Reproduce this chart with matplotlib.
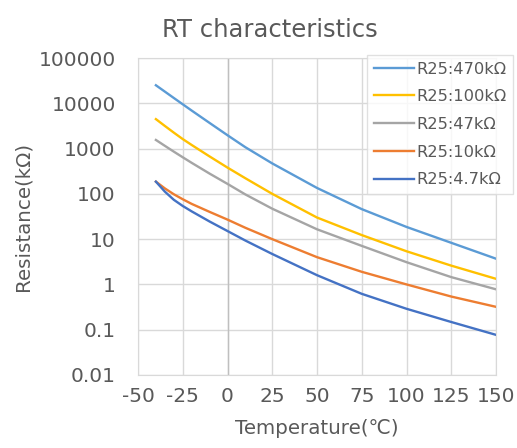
import matplotlib
matplotlib.use("Agg")
import matplotlib.pyplot as plt

plt.rcParams['font.family'] = ['DejaVu Sans', 'Noto Sans CJK JP']

temps = [-40, -35, -30, -25, -20, -10, 0, 10, 25, 50, 75, 100, 125, 150]
r470k = [25000, 18100, 13100, 9500, 6900, 3680, 1970, 1070, 470, 135, 46, 18.6, 8.3, 3.7]
r100k = [4470, 3160, 2250, 1620, 1200, 670, 380, 221, 100, 30, 12.3, 5.4, 2.6, 1.33]
r47k = [1550, 1150, 856, 642, 484, 280, 166, 97, 47, 16.5, 7.1, 3.1, 1.45, 0.78]
r10k = [186, 132, 98, 76, 60, 40, 27, 17.8, 10, 4.0, 1.9, 1.0, 0.54, 0.32]
r4k7 = [186, 112, 74, 54, 41, 24.5, 15.1, 9.3, 4.7, 1.6, 0.62, 0.29, 0.148, 0.077]

labels = ['R25:470kΩ', 'R25:100kΩ', 'R25:47kΩ', 'R25:10kΩ', 'R25:4.7kΩ']
colors = ['#5B9BD5', '#FFC000', '#A5A5A5', '#ED7D31', '#4472C4']
series = [r470k, r100k, r47k, r10k, r4k7]

xticks = [-50, -25, 0, 25, 50, 75, 100, 125, 150]
yticks = [0.01, 0.1, 1, 10, 100, 1000, 10000, 100000]
ytick_labels = ['0.01', '0.1', '1', '10', '100', '1000', '10000', '100000']

txt = '#595959'
W, H = 517, 448
fig = plt.figure(figsize=(W/100, H/100), dpi=100)
ax = fig.add_axes([138/W, 1-375/H, (496-138)/W, (375-58)/H])

for vals, lab, c in zip(series, labels, colors):
    ax.plot(temps, vals, color=c, lw=1.7, label=lab, solid_joinstyle='round')

ax.set_yscale('log')
ax.set_xlim(-50, 150)
ax.set_ylim(0.01, 100000)
ax.set_xticks(xticks)
ax.set_xticklabels([str(t) for t in xticks])
ax.set_yticks(yticks)
ax.set_yticklabels(ytick_labels)
ax.minorticks_off()
ax.grid(True, color='#D9D9D9', lw=1)
ax.axvline(0, color='#BFBFBF', lw=1, zorder=1.5)
ax.set_axisbelow(True)
for s in ax.spines.values():
    s.set_color('#D9D9D9')
ax.tick_params(length=0, labelsize=14.5, colors=txt)
ax.tick_params(axis='y', pad=16)
ax.tick_params(axis='x', pad=9)

ax.set_xlabel('Temperature(℃)', fontsize=14.3, color=txt)
ax.xaxis.label.set_va('center')
ax.xaxis.set_label_coords((317-138)/358, (375-429)/317)
ax.set_ylabel('Resistance(kΩ)', fontsize=14.3, color=txt)
ax.yaxis.label.set_va('center')
ax.yaxis.set_label_coords((23-138)/358, 0.5)

fig.text(270/W, 1-30/H, 'RT characteristics', ha='center', va='center',
         fontsize=17.5, color=txt)

leg = ax.legend(loc='upper right', bbox_to_anchor=(513/W, 1-55/H),
                bbox_transform=fig.transFigure, fontsize=11.7, frameon=True,
                fancybox=False, edgecolor='#D9D9D9', handlelength=2.5,
                handletextpad=0.12, labelspacing=0.78, borderpad=0.4,
                borderaxespad=0)
leg.get_frame().set_linewidth(1)
for t in leg.get_texts():
    t.set_color(txt)

fig.savefig('out.png', dpi=100)
